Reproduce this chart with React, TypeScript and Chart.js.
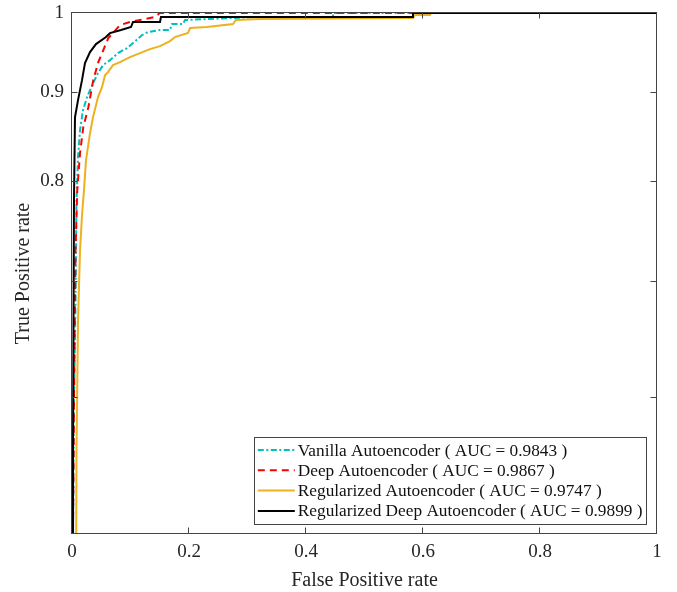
import { useEffect, useRef } from "react";
import { Chart, registerables } from "chart.js";

Chart.register(...registerables);

// ---- axis ticks ----
const xTickValues = [0, 0.2, 0.4, 0.6, 0.8, 1];
const xTickLabels = ["0", "0.2", "0.4", "0.6", "0.8", "1"];
const yTickValues = [0.6, 0.7, 0.8, 0.9, 1];
const yTickLabels = ["", "", "0.8", "0.9", "1"];

// ---- series names ----
const seriesNames = [
  "Vanilla Autoencoder ( AUC = 0.9843 )",
  "Deep Autoencoder ( AUC = 0.9867 )",
  "Regularized Autoencoder ( AUC = 0.9747 )",
  "Regularized Deep Autoencoder ( AUC = 0.9899 )",
];

// ---- ROC data (false positive rate / true positive rate) ----
const vanillaFpr = [0.0009, 0.0034, 0.006, 0.0077, 0.0103, 0.0137, 0.0188, 0.0256, 0.0359, 0.0444, 0.053, 0.065, 0.0786, 0.094, 0.1043, 0.1197, 0.1299, 0.1504, 0.1675, 0.1709, 0.1897, 0.1932, 0.2752, 0.3214, 0.4462, 0.4462, 1];
const vanillaTpr = [0.45, 0.5966, 0.6818, 0.779, 0.8253, 0.8557, 0.8786, 0.8939, 0.9108, 0.9231, 0.933, 0.9392, 0.948, 0.9544, 0.9608, 0.9711, 0.975, 0.9776, 0.9776, 0.9854, 0.9854, 0.9907, 0.9934, 0.9947, 0.9947, 1, 1];

const deepFpr = [0.0009, 0.0017, 0.0034, 0.006, 0.009, 0.0137, 0.0193, 0.0279, 0.0364, 0.045, 0.0535, 0.062, 0.0821, 0.0991, 0.1419, 0.15, 1];
const deepTpr = [0.45, 0.5, 0.597, 0.729, 0.79, 0.8296, 0.8591, 0.882, 0.9145, 0.9367, 0.9518, 0.9672, 0.9841, 0.9881, 0.9947, 1, 1];

const regFpr = [0.0068, 0.0077, 0.0103, 0.0137, 0.0171, 0.0205, 0.0239, 0.0308, 0.0359, 0.0444, 0.0513, 0.0564, 0.0615, 0.0701, 0.0821, 0.0991, 0.1162, 0.1333, 0.1504, 0.1675, 0.1761, 0.1983, 0.2017, 0.2308, 0.2752, 0.2803, 0.3214, 0.5829, 0.5863, 0.612, 0.6137, 1];
const regTpr = [0.45, 0.5582, 0.664, 0.7289, 0.7638, 0.79, 0.822, 0.8522, 0.8705, 0.8939, 0.906, 0.9206, 0.9243, 0.933, 0.9367, 0.943, 0.948, 0.9531, 0.9569, 0.9633, 0.9685, 0.9737, 0.9802, 0.9815, 0.9854, 0.9907, 0.992, 0.9934, 0.9973, 0.9973, 1, 1];

const regDeepFpr = [0.0005, 0.0017, 0.0034, 0.0051, 0.0103, 0.0171, 0.0222, 0.0308, 0.041, 0.0581, 0.065, 0.0838, 0.1009, 0.1043, 0.1504, 0.1521, 0.5829, 0.5829, 1];
const regDeepTpr = [0.45, 0.558, 0.779, 0.8705, 0.8905, 0.9145, 0.9355, 0.9493, 0.9595, 0.9685, 0.9737, 0.9776, 0.9815, 0.9881, 0.9881, 0.9947, 0.9947, 1, 1];

// ---- styles ----
const FONT = "'Liberation Serif', 'Times New Roman', Times, serif";
const TEXT = "#262626";
const AXIS = "#444444";
const seriesColors = ["#00BFBF", "#FF0000", "#EDB120", "#000000"];
const seriesDash = [[6, 2.5, 2, 2.5], [7, 5], [], []];

const zip = (xs: number[], ys: number[]) => xs.map((x, i) => ({ x, y: ys[i] }));

const framePlugin = {
  id: "matlabFrame",
  afterDatasetsDraw(chart: any) {
    const { ctx, chartArea: a, scales } = chart;
    const L = a.left - 0.5, R = a.right - 0.5, T = a.top - 0.5, B = a.bottom - 0.5;
    ctx.save();
    ctx.setLineDash([]);
    ctx.strokeStyle = AXIS;
    ctx.lineWidth = 1;
    ctx.strokeRect(L, T, R - L, B - T);
    const tl = 6;
    ctx.beginPath();
    for (const v of xTickValues) {
      const px = Math.round(scales.x.getPixelForValue(v)) - 0.5;
      if (px <= L + 1 || px >= R - 1) continue;
      ctx.moveTo(px, B); ctx.lineTo(px, B - tl);
      ctx.moveTo(px, T); ctx.lineTo(px, T + tl);
    }
    for (const v of yTickValues) {
      const py = Math.round(scales.y.getPixelForValue(v)) + 0.5;
      if (py <= T + 1 || py >= B - 1) continue;
      ctx.moveTo(L, py); ctx.lineTo(L + tl, py);
      ctx.moveTo(R, py); ctx.lineTo(R - tl, py);
    }
    ctx.stroke();
    ctx.restore();
  },
  afterDraw(chart: any) {
    const { ctx, chartArea: a } = chart;
    ctx.save();
    ctx.font = `17.3px ${FONT}`;
    const maxW = Math.max(...seriesNames.map((s) => ctx.measureText(s).width));
    const w = 44 + maxW + 3;
    const h = 86.5;
    const right = a.right - 11.5;
    const bottom = a.bottom - 11;
    const left = right - w;
    const top = bottom - h;
    ctx.fillStyle = "#ffffff";
    ctx.fillRect(left, top, w, h);
    ctx.strokeStyle = AXIS;
    ctx.lineWidth = 1;
    ctx.setLineDash([]);
    ctx.strokeRect(Math.round(left) + 0.5, Math.round(top) + 0.5, Math.round(w), Math.round(h));
    seriesNames.forEach((name, i) => {
      const cy = top + 13.5 + i * 20.3;
      ctx.beginPath();
      ctx.strokeStyle = seriesColors[i];
      ctx.lineWidth = 2;
      ctx.setLineDash(seriesDash[i]);
      ctx.moveTo(left + 4, cy);
      ctx.lineTo(left + 41, cy);
      ctx.stroke();
      ctx.setLineDash([]);
      ctx.fillStyle = "#111111";
      ctx.textBaseline = "middle";
      ctx.textAlign = "left";
      ctx.fillText(name, left + 44, cy + 1);
    });
    ctx.restore();
  },
};

export default function App() {
  const ref = useRef<HTMLCanvasElement | null>(null);
  useEffect(() => {
    if (!ref.current) return;
    const fprs = [vanillaFpr, deepFpr, regFpr, regDeepFpr];
    const tprs = [vanillaTpr, deepTpr, regTpr, regDeepTpr];
    const orders = [3, 2, 1, 0];
    const chart = new Chart(ref.current, {
      type: "line",
      data: {
        datasets: seriesNames.map((name, i) => ({
          label: name,
          data: zip(fprs[i], tprs[i]),
          borderColor: seriesColors[i],
          backgroundColor: seriesColors[i],
          borderDash: seriesDash[i],
          borderWidth: 2,
          pointRadius: 0,
          tension: 0,
          fill: false,
          order: orders[i],
        })),
      },
      options: {
        animation: false,
        responsive: false,
        devicePixelRatio: 1,
        layout: { padding: { top: 13, right: 20, left: 0, bottom: 0 } },
        plugins: { legend: { display: false }, tooltip: { enabled: false } },
        scales: {
          x: {
            type: "linear",
            min: 0,
            max: 1,
            afterFit: (s: any) => { s.height = 58; s.paddingLeft = 0; s.paddingRight = 0; },
            afterBuildTicks: (s: any) => { s.ticks = xTickValues.map((value) => ({ value })); },
            ticks: {
              autoSkip: false,
              maxRotation: 0,
              padding: 7,
              color: TEXT,
              font: { family: FONT, size: 19 },
              callback: (_v: any, i: number) => xTickLabels[i],
            },
            grid: { display: false, drawTicks: false },
            border: { display: false },
            title: {
              display: true,
              text: "False Positive rate",
              color: TEXT,
              font: { family: FONT, size: 20 },
              padding: { top: 0, bottom: -1 },
            },
          },
          y: {
            type: "logarithmic",
            min: 0.5,
            max: 1,
            afterFit: (s: any) => { s.width = 72; s.paddingTop = 0; s.paddingBottom = 0; },
            afterBuildTicks: (s: any) => { s.ticks = yTickValues.map((value) => ({ value })); },
            ticks: {
              autoSkip: false,
              padding: 8,
              color: TEXT,
              font: { family: FONT, size: 19 },
              callback: (_v: any, i: number) => yTickLabels[i],
            },
            grid: { display: false, drawTicks: false },
            border: { display: false },
            title: {
              display: true,
              text: "True Positive rate",
              color: TEXT,
              font: { family: FONT, size: 20 },
              padding: { top: 12, bottom: 0 },
            },
          },
        },
      },
      plugins: [framePlugin],
    } as any);
    return () => chart.destroy();
  }, []);
  return (
    <div style={{ position: "fixed", left: 0, top: 0, width: 677, height: 592, background: "#fff" }}>
      <canvas ref={ref} width={677} height={592} style={{ display: "block" }} />
    </div>
  );
}
